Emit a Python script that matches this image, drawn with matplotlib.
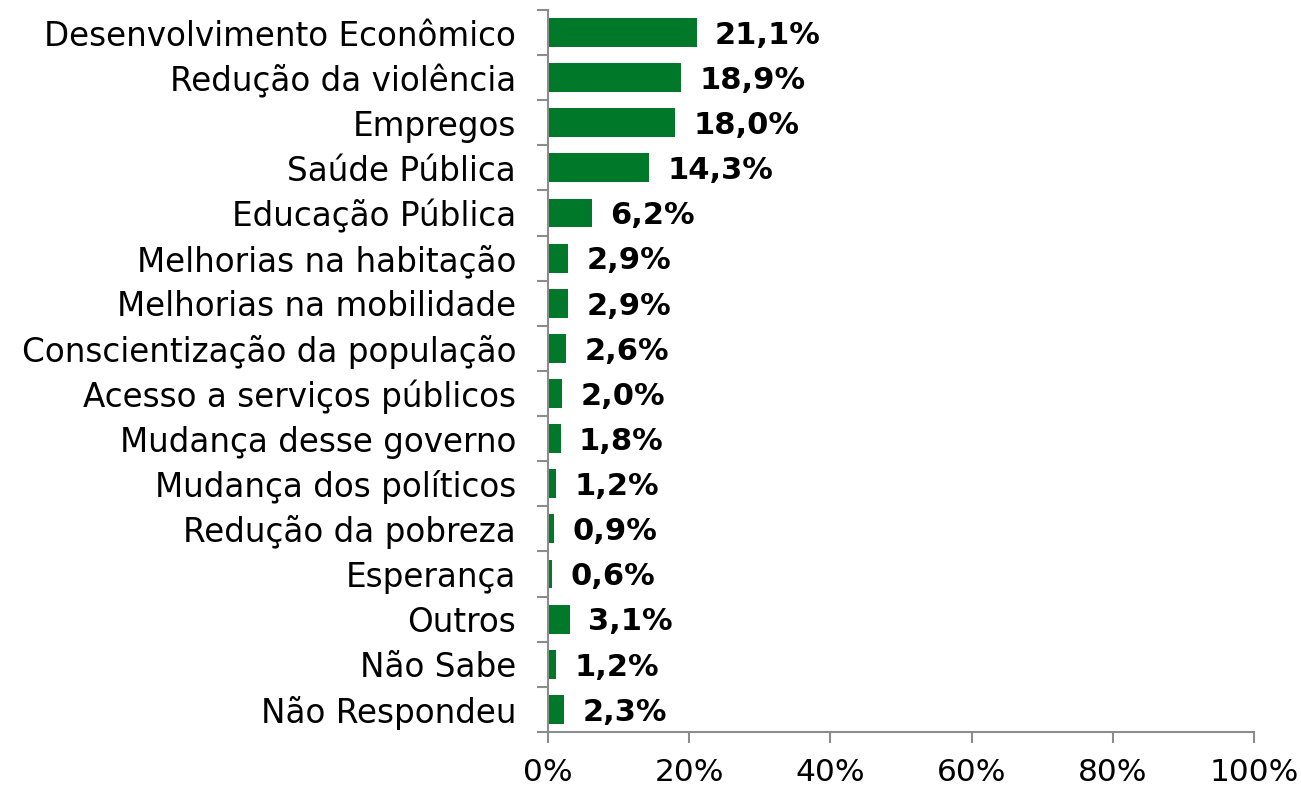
import matplotlib.pyplot as plt
from matplotlib.ticker import FuncFormatter

categories = [
    "Desenvolvimento Econômico", "Redução da violência", "Empregos",
    "Saúde Pública", "Educação Pública", "Melhorias na habitação",
    "Melhorias na mobilidade", "Conscientização da população",
    "Acesso a serviços públicos", "Mudança desse governo",
    "Mudança dos políticos", "Redução da pobreza", "Esperança",
    "Outros", "Não Sabe", "Não Respondeu",
]
values = [21.1, 18.9, 18.0, 14.3, 6.2, 2.9, 2.9, 2.6, 2.0, 1.8, 1.2, 0.9, 0.6, 3.1, 1.2, 2.3]
xticks = [0, 20, 40, 60, 80, 100]

green = "#00782a"
grey = "#8c8c8c"

fig = plt.figure(figsize=(13.01, 7.91), dpi=100)
ax = fig.add_axes([0.4212, 0.0746, 0.5427, 0.9128])

ypos = list(range(len(categories)))
bars = ax.barh(ypos, values, height=0.64, color=green)

for bar, v in zip(bars, values):
    ax.annotate(f"{v:.1f}%".replace(".", ","),
                xy=(bar.get_width(), bar.get_y() + bar.get_height() / 2),
                xytext=(13, -2), textcoords="offset points",
                ha="left", va="center", fontsize=22, fontweight="bold", color="black")

ax.set_xlim(0, 100)
ax.set_ylim(len(categories) - 0.5, -0.5)
ax.set_xticks(xticks)
ax.xaxis.set_major_formatter(FuncFormatter(lambda x, p: f"{x:.0f}%"))

# category ticks sit between the bars
ax.set_yticks([i - 0.5 for i in range(len(categories) + 1)])
ax.set_yticklabels([])
ax.set_yticks(ypos, minor=True)
ax.set_yticklabels(categories, minor=True, fontsize=23.5)
ax.tick_params(axis="y", which="minor", length=0, pad=23)
ax.tick_params(axis="y", which="major", length=8, color=grey, width=1.5)
ax.tick_params(axis="x", length=8, color=grey, width=1.5, labelsize=22.5, pad=11)

for s in ["top", "right"]:
    ax.spines[s].set_visible(False)
for s in ["left", "bottom"]:
    ax.spines[s].set_color(grey)
    ax.spines[s].set_linewidth(1.5)

fig.savefig("out.png", dpi=100)
